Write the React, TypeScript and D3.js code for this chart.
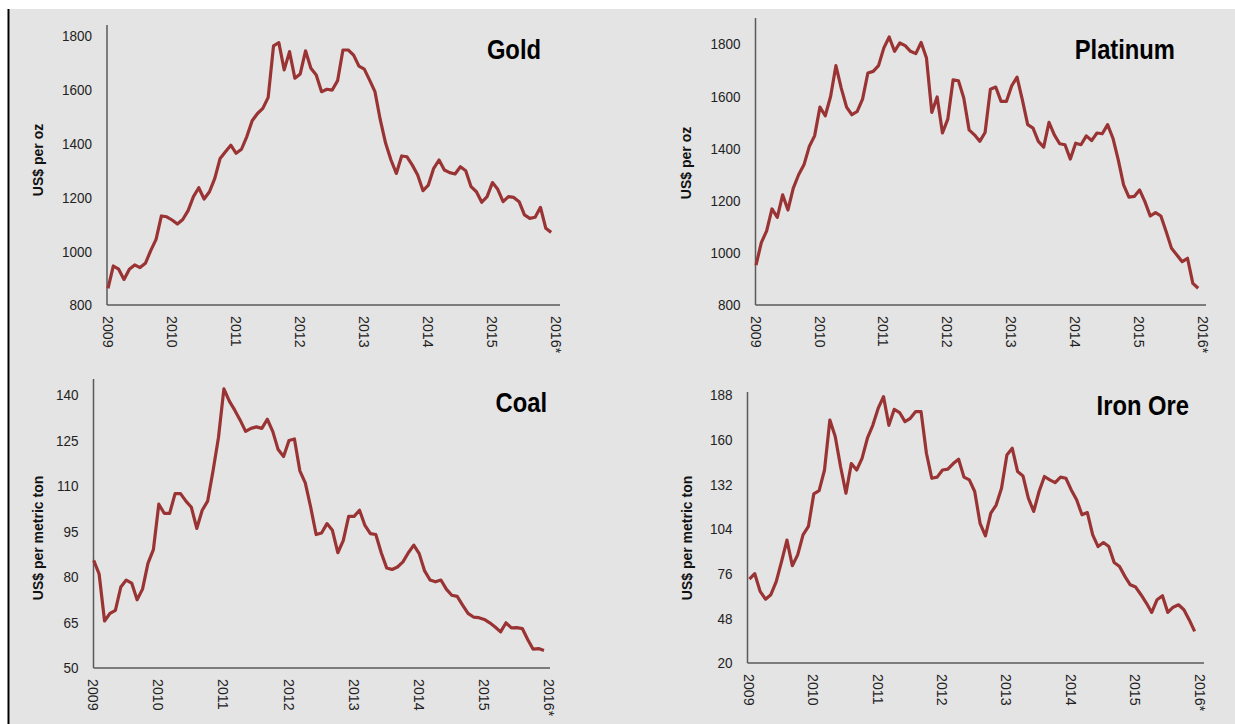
import React from "react";
import * as d3 from "d3";

const YEAR_LABELS = ["2009", "2010", "2011", "2012", "2013", "2014", "2015", "2016*"];

const gold = [
  862, 945, 933, 895, 933, 949, 939, 955, 1002, 1044, 1131, 1128,
  1116, 1101, 1118, 1151, 1203, 1236, 1194, 1221, 1271, 1345, 1370, 1394,
  1364, 1379, 1426, 1485, 1512, 1531, 1572, 1763, 1775, 1674, 1742, 1643,
  1659, 1745, 1680, 1655, 1593, 1602, 1599, 1634, 1748, 1748, 1729, 1688,
  1677, 1636, 1593, 1488, 1401, 1339, 1289, 1354, 1351, 1320, 1283, 1225,
  1246, 1308, 1339, 1302, 1292, 1287, 1314, 1299, 1240, 1221, 1182, 1203,
  1255, 1230, 1184, 1203, 1200, 1184, 1135, 1122, 1126, 1163, 1085, 1070,
];

const platinum = [
  953, 1039, 1084, 1168, 1136, 1222, 1164, 1248, 1299, 1337, 1407, 1448,
  1558, 1525, 1599, 1717, 1631, 1558, 1529, 1542, 1589, 1689, 1695, 1717,
  1785, 1827, 1772, 1804, 1794, 1772, 1763, 1806, 1746, 1538, 1597, 1459,
  1512, 1663, 1659, 1593, 1471, 1452, 1427, 1461, 1627, 1635, 1580, 1580,
  1640, 1673, 1586, 1491, 1478, 1427, 1405, 1500, 1452, 1418, 1414, 1359,
  1420, 1414, 1448, 1430, 1459, 1456, 1491, 1439, 1356, 1260, 1213, 1216,
  1241, 1196, 1141, 1154, 1141, 1081, 1017, 992, 966, 979, 883, 864,
];

const coal = [
  85.5, 81, 65.5, 68, 69, 76.7, 79, 78, 72.5, 76, 84.5, 89,
  104, 101, 101, 107.5, 107.5, 105, 103, 96, 102, 105, 115, 126,
  142, 138, 135, 131.7, 128, 129, 129.5, 129, 132, 128, 122, 119.7,
  125, 125.5, 115, 111, 103, 94, 94.5, 97.6, 95.4, 88, 92, 100,
  100, 102, 97, 94.3, 94, 88, 83, 82.5, 83.3, 85, 88, 90.5,
  87.7, 82, 79, 78.4, 79, 76, 74, 73.6, 70.7, 68, 66.8, 66.6,
  66, 64.9, 63.5, 61.9, 64.9, 63.2, 63.3, 63, 59.4, 56.2, 56.4, 55.8,
];

const ironOre = [
  72.6, 76, 64.9, 60, 62.8, 71, 83.7, 97, 81, 87.8, 100.3, 105.6,
  126, 128, 141, 172.3, 162, 143, 126.4, 145, 141, 148.3, 160.9, 169,
  179.6, 187, 169, 179, 177, 171.3, 173.4, 177.6, 177.6, 151.5, 135.8, 136.5,
  141, 141.5, 145, 147.7, 136.5, 134.8, 127.5, 107.6, 99.7, 113.9, 119, 129.6,
  150.4, 154.6, 140, 137.3, 123.3, 115, 127.5, 136.9, 134.8, 133.1, 136.5, 135.8,
  128.5, 122.3, 112.9, 114.3, 100.3, 93, 95.5, 93, 83, 80.5, 74.3, 69,
  67.6, 62.8, 57.6, 51.7, 59.7, 62.2, 51.7, 55, 56.5, 53.4, 47, 39.8,
];

const goldTicks = [800, 1000, 1200, 1400, 1600, 1800];
const platinumTicks = [800, 1000, 1200, 1400, 1600, 1800];
const coalTicks = [50, 65, 80, 95, 110, 125, 140];
const ironTicks = [20, 48, 76, 104, 132, 160, 188];

const LINE_COLOR = "#9a3434";
const AXIS_COLOR = "#5a5a5a";
const FONT = "'Liberation Sans', Arial, sans-serif";

type PanelProps = {
  title: string;
  yTitle: string;
  values: number[];
  ticks: number[];
  axisX: number;
  axisTop: number;
  axisBottom: number;
  axisRight: number;
  x0: number;
  x1: number;
  yTopValuePx: number;
  titleX: number;
  titleY: number;
  yTitleX: number;
  yTitleY: number;
};

function Panel(p: PanelProps) {
  const x = d3.scaleLinear().domain([0, 84]).range([p.x0, p.x1]);
  const y = d3
    .scaleLinear()
    .domain([p.ticks[0], p.ticks[p.ticks.length - 1]])
    .range([p.axisBottom, p.yTopValuePx]);
  const line = d3
    .line<number>()
    .x((_, i) => x(i))
    .y((d) => y(d));
  return (
    <g>
      <line x1={p.axisX} x2={p.axisX} y1={p.axisTop} y2={p.axisBottom} stroke={AXIS_COLOR} strokeWidth={1.5} />
      <line x1={p.axisX} x2={p.axisRight} y1={p.axisBottom} y2={p.axisBottom} stroke={AXIS_COLOR} strokeWidth={1.5} />
      {p.ticks.map((t) => (
        <text
          key={t}
          transform={`translate(${p.axisX - 15},${y(t)}) scale(0.9,1)`}
          dy="0.36em"
          textAnchor="end"
          fontSize={15}
          fontFamily={FONT}
          fill="#222"
        >
          {t}
        </text>
      ))}
      {YEAR_LABELS.map((lab, i) => (
        <text
          key={lab}
          transform={`translate(${x(i * 12)},${p.axisBottom + 11}) rotate(90) scale(0.95,1)`}
          dy="0.36em"
          textAnchor="start"
          fontSize={15}
          fontFamily={FONT}
          fill="#222"
        >
          {lab}
        </text>
      ))}
      <path d={line(p.values) || ""} fill="none" stroke={LINE_COLOR} strokeWidth={3.2} strokeLinejoin="round" />
      <text
        transform={`translate(${p.titleX},${p.titleY}) scale(0.88,1)`}
        textAnchor="end"
        fontSize={27}
        fontWeight="bold"
        fontFamily={FONT}
        fill="#000"
      >
        {p.title}
      </text>
      <text
        transform={`translate(${p.yTitleX},${p.yTitleY}) rotate(-90)`}
        textAnchor="middle"
        dy="0.36em"
        fontSize={14}
        fontWeight="bold"
        fontFamily={FONT}
        fill="#111"
      >
        {p.yTitle}
      </text>
    </g>
  );
}

export default function App() {
  return (
    <svg
      width={1235}
      height={724}
      style={{ position: "absolute", left: 0, top: 0, display: "block" }}
    >
      <rect x={0} y={0} width={1235} height={724} fill="#ffffff" />
      <rect x={9.5} y={9} width={1226} height={715} fill="#e4e4e4" />
      <rect x={7.5} y={9} width={2} height={715} fill="#000" />
      <Panel
        title="Gold"
        yTitle="US$ per oz"
        values={gold}
        ticks={goldTicks}
        axisX={107}
        axisTop={25}
        axisBottom={305}
        axisRight={560}
        x0={108}
        x1={556.5}
        yTopValuePx={36}
        titleX={541}
        titleY={59}
        yTitleX={38}
        yTitleY={160}
      />
      <Panel
        title="Platinum"
        yTitle="US$ per oz"
        values={platinum}
        ticks={platinumTicks}
        axisX={755.5}
        axisTop={18}
        axisBottom={305}
        axisRight={1206}
        x0={756}
        x1={1203.5}
        yTopValuePx={44}
        titleX={1175}
        titleY={59}
        yTitleX={686}
        yTitleY={163}
      />
      <Panel
        title="Coal"
        yTitle="US$ per metric ton"
        values={coal}
        ticks={coalTicks}
        axisX={93.5}
        axisTop={379}
        axisBottom={668}
        axisRight={550}
        x0={93.7}
        x1={549.4}
        yTopValuePx={395}
        titleX={547}
        titleY={412}
        yTitleX={38}
        yTitleY={538}
      />
      <Panel
        title="Iron Ore"
        yTitle="US$ per metric ton"
        values={ironOre}
        ticks={ironTicks}
        axisX={747.5}
        axisTop={392}
        axisBottom={663}
        axisRight={1204}
        x0={749.4}
        x1={1200}
        yTopValuePx={395}
        titleX={1189}
        titleY={415}
        yTitleX={687}
        yTitleY={538}
      />
    </svg>
  );
}
